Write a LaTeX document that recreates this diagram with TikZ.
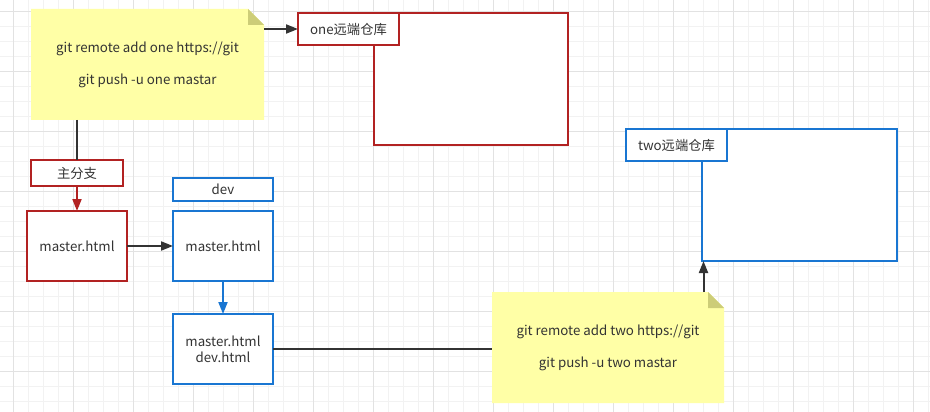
\documentclass[tikz,border=0pt]{standalone}
\usepackage{fontspec}
\setmainfont{Noto Sans CJK SC}
\usetikzlibrary{arrows.meta,backgrounds}
\definecolor{redc}{RGB}{178,34,34}
\definecolor{bluec}{RGB}{25,118,210}
\definecolor{darkc}{RGB}{51,51,51}
\definecolor{notec}{RGB}{255,255,166}
\definecolor{foldc}{RGB}{205,205,120}
\definecolor{gridminor}{RGB}{242,242,242}
\definecolor{gridmajor}{RGB}{226,226,226}
\tikzset{
  box/.style={draw, line width=2pt, fill=white, inner sep=0pt, outer sep=0pt, anchor=north west, text=darkc, font=\fontsize{13.3}{15.6}\selectfont, align=center},
  redbox/.style={box, draw=redc},
  bluebox/.style={box, draw=bluec},
  note/.style={inner sep=0pt, outer sep=0pt, anchor=north west, text=darkc, font=\fontsize{13.3}{16}\selectfont, align=center},
  darkarr/.style={draw=darkc, line width=2pt, -{Triangle[length=12pt,width=9pt]}},
  darkline/.style={draw=darkc, line width=2pt},
  redarr/.style={draw=redc, line width=2pt, -{Triangle[length=12pt,width=9pt]}},
  bluearr/.style={draw=bluec, line width=2pt, -{Triangle[length=12pt,width=9pt]}},
}
\begin{document}
\begin{tikzpicture}[x=1pt,y=-1pt]
\useasboundingbox (0,0) rectangle (930,412);
% notes
\node[note, minimum width=233pt, minimum height=107pt] (n1) at (31,11) {git remote add one https://git\\[16pt]git push -u one mastar};
\node[note, minimum width=232pt, minimum height=107pt] (n2) at (492,294) {git remote add two https://git\\[16pt]git push -u two mastar};
\begin{pgfonlayer}{background}
  \fill[white] (0,0) rectangle (930,412);
  \foreach \x in {-1.7,13.3,...,935} \draw[gridminor, line width=1pt] (\x,0) -- (\x,412);
  \foreach \y in {-3.3,11.7,...,415} \draw[gridminor, line width=1pt] (0,\y) -- (930,\y);
  \foreach \x in {13.3,73.3,...,935} \draw[gridmajor, line width=1pt] (\x,0) -- (\x,412);
  \foreach \y in {11.7,71.7,...,415} \draw[gridmajor, line width=1pt] (0,\y) -- (930,\y);
  \foreach \n in {n1,n2} {
    \fill[notec] ([yshift=2pt]\n.north west) -- ([xshift=-16pt,yshift=2pt]\n.north east) -- ([yshift=-14pt]\n.north east) -- ([yshift=-2pt]\n.south east) -- ([yshift=-2pt]\n.south west) -- cycle;
    \fill[foldc] ([xshift=-16pt,yshift=2pt]\n.north east) -- ([xshift=-16pt,yshift=-14pt]\n.north east) -- ([yshift=-14pt]\n.north east) -- cycle;
  }
\end{pgfonlayer}
% boxes
\node[redbox, minimum width=194pt, minimum height=132pt] (big1) at (374,13) {};
\node[redbox, minimum width=101pt, minimum height=32pt] (lbl1) at (298,13) {one远端仓库};
\node[redbox, minimum width=92pt, minimum height=26pt] (zhu) at (31,160) {主分支};
\node[redbox, minimum width=100pt, minimum height=70pt] (m1) at (27,211) {master.html};
\node[bluebox, minimum width=100pt, minimum height=23pt] (dev) at (173,178) {dev};
\node[bluebox, minimum width=100pt, minimum height=70pt] (m2) at (173,211) {master.html};
\node[bluebox, minimum width=100pt, minimum height=70pt] (m3) at (173,314) {master.html\\dev.html};
\node[bluebox, minimum width=195pt, minimum height=132pt] (big2) at (702,129) {};
\node[bluebox, minimum width=101pt, minimum height=32pt] (lbl2) at (626,129) {two远端仓库};
% connectors
\draw[darkarr] (lbl1.west -| n1.east) -- (lbl1.west);
\draw[darkline] ([yshift=-2pt]zhu.north |- n1.south) -- (zhu.north);
\draw[redarr] (zhu.south) -- (m1.north);
\draw[darkarr] (m1.east) -- (m2.west);
\draw[bluearr] (m2.south) -- (m3.north);
\draw[darkline] (m3.east) -- (m3.east -| n2.west);
\coordinate (up2) at ([xshift=1.5pt]big2.south west);
\draw[darkarr] ([yshift=2pt]up2 |- n2.north) -- (up2);
\end{tikzpicture}
\end{document}
